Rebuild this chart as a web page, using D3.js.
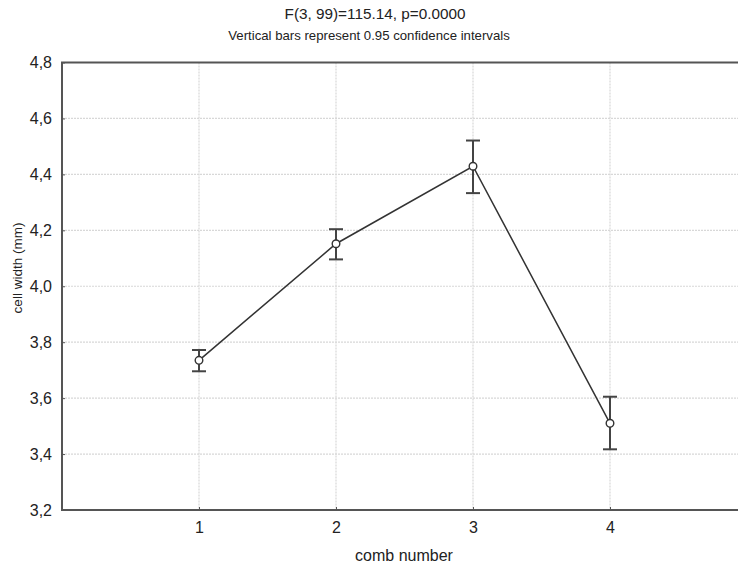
<!DOCTYPE html>
<html><head><meta charset="utf-8">
<script src="https://cdn.jsdelivr.net/npm/d3@7"></script>
<style>body{margin:0;background:#fff}svg{display:block}text{font-family:"Liberation Sans",Arial,sans-serif;fill:#222}</style>
</head><body><svg id="c" width="738" height="564"></svg>
<script>
const categories = [1, 2, 3, 4];
const means = [3.735, 4.152, 4.429, 3.51];
const upper = [3.772, 4.204, 4.521, 3.605];
const lower = [3.696, 4.096, 4.333, 3.417];
const yTicks = [3.2, 3.4, 3.6, 3.8, 4.0, 4.2, 4.4, 4.6, 4.8];
const titles = ["F(3, 99)=115.14, p=0.0000", "Vertical bars represent 0.95 confidence intervals"];
const xLabel = "comb number";
const yLabel = "cell width (mm)";

const svg = d3.select("#c");
const x = d3.scaleLinear().domain([0, 5]).range([62, 747]);
const y = d3.scaleLinear().domain([3.2, 4.8]).range([510, 62.5]);
const fmt = d => d.toFixed(1).replace(".", ",");

// grid
svg.append("g").selectAll("line").data(yTicks.slice(1, -1)).join("line")
  .attr("x1", 62).attr("x2", 738).attr("y1", d => y(d)).attr("y2", d => y(d))
  .attr("stroke", "#d8d8d8").attr("stroke-width", 1.2).attr("stroke-dasharray", "2,1");
svg.append("g").selectAll("line").data(categories).join("line")
  .attr("y1", 62.5).attr("y2", 510).attr("x1", d => x(d)).attr("x2", d => x(d))
  .attr("stroke", "#d8d8d8").attr("stroke-width", 1.2).attr("stroke-dasharray", "2,1");

// axes
const yAxis = svg.append("g").attr("transform", "translate(62,0)")
  .call(d3.axisLeft(y).tickValues(yTicks).tickFormat(fmt).tickSize(-3).tickPadding(10));
yAxis.select(".domain").remove();
yAxis.selectAll("line").attr("stroke", "#555");
yAxis.selectAll("text").attr("font-size", 16).style("fill", "#222");

const xAxis = svg.append("g").attr("transform", "translate(0,510)")
  .call(d3.axisBottom(x).tickValues(categories).tickFormat(d3.format("d")).tickSize(-3).tickPadding(12));
xAxis.select(".domain").remove();
xAxis.selectAll("line").attr("stroke", "#555");
xAxis.selectAll("text").attr("font-size", 16).style("fill", "#222");

// frame
svg.append("path").attr("d", `M738,62.5H62V510H738`).attr("fill", "none")
  .attr("stroke", "#555").attr("stroke-width", 2);

// line
svg.append("path").datum(categories.map((c, i) => [x(c), y(means[i])]))
  .attr("d", d3.line()).attr("fill", "none").attr("stroke", "#333").attr("stroke-width", 1.5);

// error bars
const eb = svg.append("g").selectAll("g").data(categories).join("g");
eb.append("line").attr("x1", d => x(d)).attr("x2", d => x(d))
  .attr("y1", (d, i) => y(upper[i])).attr("y2", (d, i) => y(lower[i]))
  .attr("stroke", "#444").attr("stroke-width", 2);
eb.append("line").attr("x1", d => x(d) - 7).attr("x2", d => x(d) + 7)
  .attr("y1", (d, i) => y(upper[i])).attr("y2", (d, i) => y(upper[i]))
  .attr("stroke", "#444").attr("stroke-width", 2);
eb.append("line").attr("x1", d => x(d) - 7).attr("x2", d => x(d) + 7)
  .attr("y1", (d, i) => y(lower[i])).attr("y2", (d, i) => y(lower[i]))
  .attr("stroke", "#444").attr("stroke-width", 2);
eb.append("circle").attr("cx", d => x(d)).attr("cy", (d, i) => y(means[i])).attr("r", 3.8)
  .attr("fill", "#fff").attr("stroke", "#333").attr("stroke-width", 1.4);

// titles
svg.append("text").attr("x", 375).attr("y", 19).attr("text-anchor", "middle")
  .attr("font-size", 15.3).text(titles[0]);
svg.append("text").attr("x", 369).attr("y", 40).attr("text-anchor", "middle")
  .attr("font-size", 13.2).text(titles[1]);
svg.append("text").attr("x", 404).attr("y", 561).attr("text-anchor", "middle")
  .attr("font-size", 16).text(xLabel);
svg.append("text").attr("transform", "translate(22,268) rotate(-90)").attr("text-anchor", "middle")
  .attr("font-size", 13.5).text(yLabel);
</script></body></html>
